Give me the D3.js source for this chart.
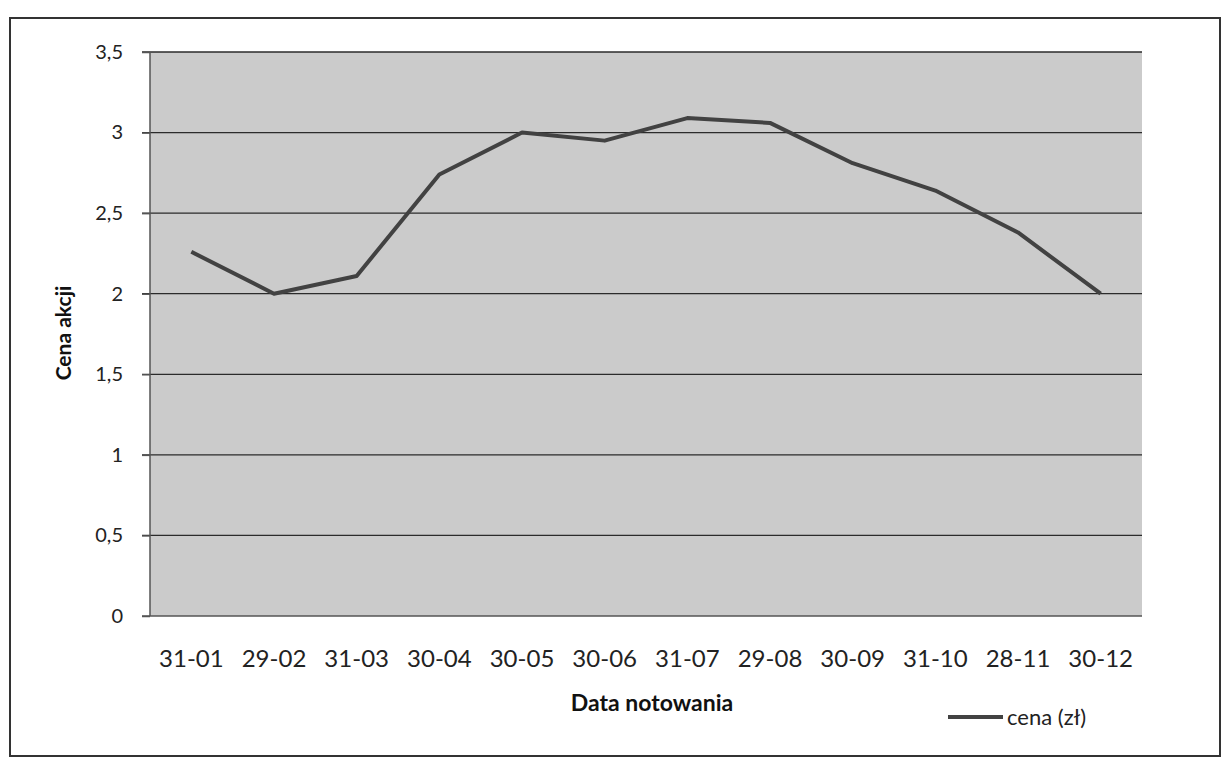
<!DOCTYPE html>
<meta charset="utf-8">
<title>Cena akcji</title>
<style>

body {
  margin: 0;
  background: #fff;
  font-family: Lato, "Open Sans", sans-serif;
}

.axis text {
  fill: #222;
  font-family: Lato, "Open Sans", sans-serif;
}

.y.axis text {
  font-size: 20px;
}

.x.axis text {
  font-size: 24px;
}

.axis path, .axis line {
  stroke: #555;
  stroke-width: 1.5;
  fill: none;
}

.grid line {
  stroke: #2b2b2b;
  stroke-width: 1.3;
}

.title {
  font-weight: bold;
  fill: #111;
}

</style>
<body>
<script src="https://d3js.org/d3.v7.min.js"></script>
<script>

var dates = ["31-01", "29-02", "31-03", "30-04", "30-05", "30-06",
             "31-07", "29-08", "30-09", "31-10", "28-11", "30-12"];
var prices = [2.26, 2.0, 2.11, 2.74, 3.0, 2.95, 3.09, 3.06, 2.81, 2.64, 2.38, 2.0];
var yTicks = [0, 0.5, 1, 1.5, 2, 2.5, 3, 3.5];

var W = 1223, H = 763;
var plot = {left: 150, top: 52, right: 1142, bottom: 616};

var svg = d3.select("body").append("svg")
    .attr("width", W)
    .attr("height", H);

// outer frame
svg.append("rect")
    .attr("x", 10).attr("y", 18)
    .attr("width", 1210).attr("height", 738)
    .attr("fill", "#fff")
    .attr("stroke", "#333")
    .attr("stroke-width", 2);

var x = d3.scaleBand()
    .domain(dates)
    .range([plot.left, plot.right])
    .padding(0);

var y = d3.scaleLinear()
    .domain([0, 3.5])
    .range([plot.bottom, plot.top]);

// plot background
svg.append("rect")
    .attr("x", plot.left).attr("y", plot.top)
    .attr("width", plot.right - plot.left)
    .attr("height", plot.bottom - plot.top)
    .attr("fill", "#cbcbcb");

// gridlines
svg.append("g")
    .attr("class", "grid")
  .selectAll("line")
    .data(yTicks.filter(function(d) { return d > 0; }))
  .enter().append("line")
    .attr("x1", plot.left - 8)
    .attr("x2", plot.right)
    .attr("y1", function(d) { return y(d); })
    .attr("y2", function(d) { return y(d); });

var fmt = function(d) { return String(d).replace(".", ","); };

svg.append("g")
    .attr("class", "y axis")
    .attr("transform", "translate(" + plot.left + ",0)")
    .call(d3.axisLeft(y).tickValues(yTicks).tickFormat(fmt).tickSize(8).tickPadding(19))
    .call(function(g) { g.select(".domain").attr("d", "M0," + plot.top + "V" + plot.bottom); });

svg.append("g")
    .attr("class", "x axis")
    .attr("transform", "translate(0," + plot.bottom + ")")
    .call(d3.axisBottom(x).tickSize(0).tickPadding(34))
    .call(function(g) {
      g.select(".domain").attr("d", "M" + (plot.left - 8) + ",0H" + plot.right).attr("stroke", "#222");
    });

var line = d3.line()
    .x(function(d, i) { return x(dates[i]) + x.bandwidth() / 2; })
    .y(function(d) { return y(d); });

svg.append("path")
    .datum(prices)
    .attr("d", line)
    .attr("fill", "none")
    .attr("stroke", "#424242")
    .attr("stroke-width", 4)
    .attr("stroke-linejoin", "round");

svg.append("text")
    .attr("class", "title")
    .attr("transform", "translate(71," + 333 + ") rotate(-90)")
    .attr("text-anchor", "middle")
    .style("font-size", "21px")
    .text("Cena akcji");

svg.append("text")
    .attr("class", "title")
    .attr("x", 652).attr("y", 711)
    .attr("text-anchor", "middle")
    .style("font-size", "23px")
    .text("Data notowania");

// legend
svg.append("line")
    .attr("x1", 948).attr("x2", 1003)
    .attr("y1", 717).attr("y2", 717)
    .attr("stroke", "#424242")
    .attr("stroke-width", 4);

svg.append("text")
    .attr("x", 1007).attr("y", 717)
    .attr("dy", ".35em")
    .style("font-size", "22px")
    .style("fill", "#222")
    .text("cena (zł)");

</script>
</body>
